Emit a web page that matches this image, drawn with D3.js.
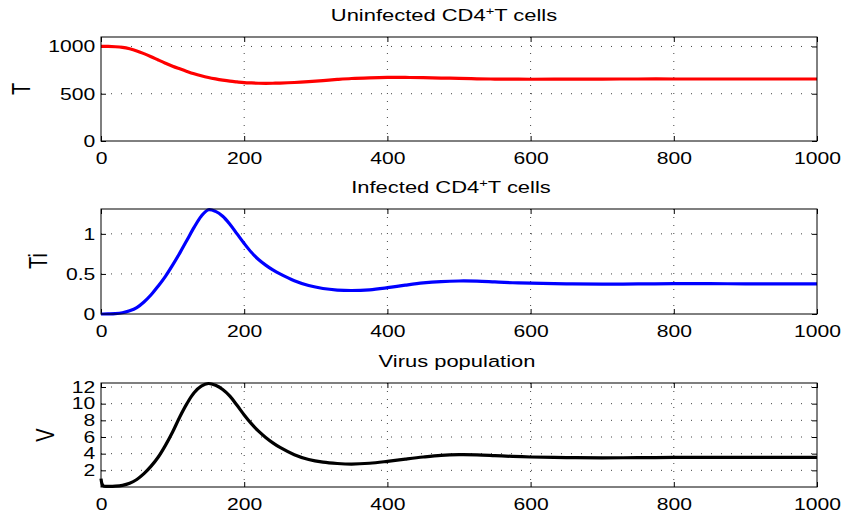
<!DOCTYPE html>
<html>
<head>
<meta charset="utf-8">
<script src="https://cdn.jsdelivr.net/npm/d3@7/dist/d3.min.js"></script>
<style>
  body { margin: 0; background: white; }
  text { font-family: "Liberation Sans", Arial, Helvetica, sans-serif; }
</style>
</head>
<body>
<div id="chart"></div>
<script>
// time grid shared by the three series
const time = [0, 3, 10, 20, 30, 40, 50, 60, 70, 80, 90, 100, 110, 120, 130, 140, 150, 160, 170, 180,
              190, 200, 210, 220, 230, 240, 250, 270, 290, 310, 330, 350, 375, 400, 425, 450, 475, 500,
              525, 550, 575, 600, 650, 700, 750, 800, 850, 900, 950, 1000];

const uninfected = [1000, 1000, 1000, 997, 990, 975, 953, 924, 892, 857, 823, 791, 763, 736, 711, 690, 672, 657, 644, 633,
                    625, 618, 614, 611, 610, 611, 613, 619, 628, 639, 651, 661, 668, 672, 672, 670, 666, 662,
                    658, 655, 654, 653, 654, 655, 656, 656, 656, 656, 656, 656];

const infected = [0, 0, 0.001, 0.004, 0.015, 0.04, 0.08, 0.15, 0.24, 0.35, 0.47, 0.61, 0.76, 0.92, 1.08, 1.22, 1.30, 1.28, 1.22, 1.12,
                  1.00, 0.88, 0.77, 0.68, 0.61, 0.55, 0.50, 0.415, 0.355, 0.318, 0.299, 0.293, 0.302, 0.328, 0.36, 0.388, 0.405, 0.412,
                  0.41, 0.40, 0.39, 0.384, 0.376, 0.373, 0.375, 0.378, 0.378, 0.377, 0.377, 0.377];

const virus = [1.0, 0.15, 0.08, 0.1, 0.2, 0.45, 0.9, 1.6, 2.5, 3.6, 5.0, 6.6, 8.4, 10.0, 11.3, 12.1, 12.42, 12.2, 11.7, 10.9,
               9.8, 8.65, 7.6, 6.7, 5.95, 5.3, 4.75, 3.88, 3.3, 2.98, 2.82, 2.75, 2.85, 3.08, 3.35, 3.6, 3.8, 3.88,
               3.86, 3.77, 3.67, 3.6, 3.53, 3.5, 3.52, 3.55, 3.56, 3.56, 3.55, 3.55];

const xTicks = [0, 200, 400, 600, 800, 1000];
const tTicks = [0, 500, 1000];
const tiTicks = [0, 0.5, 1];
const vTicks = [2, 4, 6, 8, 10, 12];

const width = 846, height = 515;
const left = 101, right = 817;
const stretch = 1.28;   // text in the reference is wider than it is tall

const svg = d3.select('#chart')
              .append('svg')
              .attr('width', width)
              .attr('height', height)
              .style('background', 'white');

const x = d3.scaleLinear().domain([0, 1000]).range([left, right]);
const plain = d => String(d);

function drawPanel(values, opts) {
    const y = d3.scaleLinear().domain([0, opts.yMax]).range([opts.bottom, opts.top]);
    const g = svg.append('g');

    // dotted grid
    g.selectAll('.vgrid')
     .data(xTicks.slice(1, -1))
     .enter().append('line')
     .attr('x1', d => x(d)).attr('x2', d => x(d))
     .attr('y1', opts.top).attr('y2', opts.bottom)
     .attr('stroke', '#444').attr('stroke-width', 1)
     .attr('stroke-dasharray', '1,7');

    g.selectAll('.hgrid')
     .data(opts.yTicks.filter(d => d > 0))
     .enter().append('line')
     .attr('x1', left).attr('x2', right)
     .attr('y1', d => y(d)).attr('y2', d => y(d))
     .attr('stroke', '#444').attr('stroke-width', 1)
     .attr('stroke-dasharray', '1,9');

    // ticks pointing inward on all four sides
    const axL = g.append('g').attr('transform', `translate(${left},0)`)
        .call(d3.axisLeft(y).tickValues(opts.yTicks).tickFormat(plain).tickSize(-5).tickPadding(4.5));
    const axB = g.append('g').attr('transform', `translate(0,${opts.bottom})`)
        .call(d3.axisBottom(x).tickValues(xTicks).tickFormat(plain).tickSize(-5).tickPadding(11));
    g.append('g').attr('transform', `translate(${right},0)`)
        .call(d3.axisRight(y).tickValues(opts.yTicks).tickSize(-5).tickFormat(''));
    g.append('g').attr('transform', `translate(0,${opts.top})`)
        .call(d3.axisTop(x).tickValues(xTicks).tickSize(-5).tickFormat(''));

    [axL, axB].forEach(ax => {
        ax.selectAll('text')
          .style('font-family', '"Liberation Sans", Arial, sans-serif')
          .style('font-size', '16.5px')
          .attr('fill', '#000')
          .attr('transform', `scale(${stretch},1)`);
    });
    g.selectAll('.domain').remove();
    g.selectAll('.tick line').attr('stroke', '#000');

    const line = d3.line()
                   .x((d, i) => x(time[i]))
                   .y(d => y(d))
                   .curve(d3.curveCatmullRom.alpha(0.5));

    g.append('path')
     .datum(values)
     .attr('d', line)
     .attr('fill', 'none')
     .attr('stroke', opts.color)
     .attr('stroke-width', 3.2)
     .attr('stroke-linejoin', 'round');

    // frame
    g.append('rect')
     .attr('x', left).attr('y', opts.top)
     .attr('width', right - left).attr('height', opts.bottom - opts.top)
     .attr('fill', 'none').attr('stroke', '#000').attr('stroke-width', 1);

    // y label
    g.append('text')
     .attr('transform', `translate(${opts.labelX},${opts.labelY}) scale(${stretch},1) rotate(-90)`)
     .attr('text-anchor', 'middle')
     .attr('dy', '0.36em')
     .style('font-size', '20px')
     .text(opts.label);

    // title
    const title = g.append('text')
     .attr('transform', `translate(${opts.titleX},${opts.top - 16}) scale(1.33,1)`)
     .attr('text-anchor', 'middle')
     .style('font-size', '16.5px');
    if (opts.sup) {
        title.append('tspan').text(opts.title[0]);
        title.append('tspan').attr('dy', -6).style('font-size', '11px').text('+');
        title.append('tspan').attr('dy', 6).text(opts.title[1]);
    } else {
        title.text(opts.title);
    }
}

drawPanel(uninfected, {top: 37, bottom: 141, yMax: 1100, yTicks: tTicks, color: '#ff0000',
    label: 'T', labelX: 21, labelY: 89, title: ['Uninfected CD4', 'T cells'], sup: true, titleX: 444});
drawPanel(infected, {top: 209, bottom: 314, yMax: 1.31, yTicks: tiTicks, color: '#0000ff',
    label: 'Ti', labelX: 38, labelY: 261, title: ['Infected CD4', 'T cells'], sup: true, titleX: 451});
drawPanel(virus, {top: 383, bottom: 487, yMax: 12.48, yTicks: vTicks, color: '#000000',
    label: 'V', labelX: 45, labelY: 435, title: 'Virus population', sup: false, titleX: 457});
</script>
</body>
</html>
